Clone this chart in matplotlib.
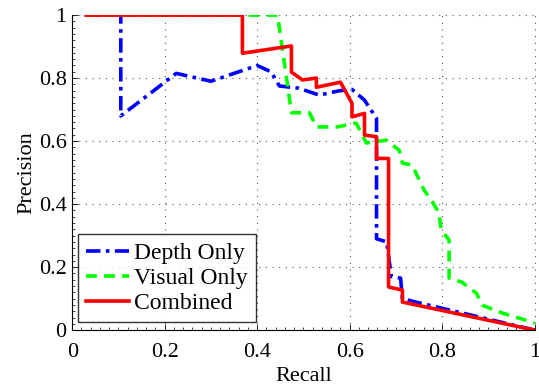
import matplotlib
matplotlib.use("Agg")
import matplotlib.pyplot as plt
from matplotlib.ticker import MultipleLocator

plt.rcParams['font.family'] = ['Liberation Serif', 'DejaVu Serif']
plt.rcParams['mathtext.fontset'] = 'stix'

depth_x = [0.03, 0.105, 0.105, 0.225, 0.30, 0.40, 0.43, 0.448, 0.49, 0.534, 0.578, 0.605, 0.632, 0.658, 0.658, 0.68, 0.69, 0.71, 0.714, 0.74, 1.0]
depth_y = [1.0, 1.0, 0.68, 0.815, 0.79, 0.84, 0.82, 0.775, 0.768, 0.746, 0.76, 0.764, 0.73, 0.672, 0.29, 0.28, 0.17, 0.165, 0.10, 0.09, 0.0]

visual_x = [0.03, 0.444, 0.474, 0.513, 0.528, 0.573, 0.614, 0.636, 0.679, 0.707, 0.714, 0.735, 0.761, 0.779, 0.793, 0.798, 0.815, 0.815, 0.843, 0.874, 0.887, 0.93, 0.98, 1.0]
visual_y = [1.0, 1.0, 0.69, 0.69, 0.645, 0.645, 0.657, 0.594, 0.603, 0.571, 0.53, 0.524, 0.444, 0.407, 0.371, 0.317, 0.286, 0.165, 0.152, 0.117, 0.079, 0.054, 0.032, 0.022]

comb_x = [0.03, 0.368, 0.368, 0.474, 0.474, 0.498, 0.528, 0.528, 0.58, 0.605, 0.605, 0.632, 0.632, 0.658, 0.658, 0.684, 0.684, 0.714, 0.714, 1.0]
comb_y = [1.0, 1.0, 0.879, 0.902, 0.819, 0.794, 0.80, 0.771, 0.787, 0.72, 0.677, 0.688, 0.619, 0.614, 0.545, 0.545, 0.137, 0.127, 0.089, 0.0]

labels = ['Depth Only', 'Visual Only', 'Combined']
ticks = [0, 0.2, 0.4, 0.6, 0.8, 1]
tick_labels = ['0', '0.2', '0.4', '0.6', '0.8', '1']

fig = plt.figure(figsize=(5.39, 3.87), dpi=100)
ax = fig.add_axes([0.134, 0.147, 0.858, 0.814])

ax.plot(depth_x, depth_y, color='#0000ff', lw=2.6, linestyle=(0, (4, 1.5, 1, 1.5)), label=labels[0])
ax.plot(visual_x, visual_y, color='#00ff00', lw=2.6, linestyle=(0, (3, 2)), label=labels[1])
ax.plot(comb_x, comb_y, color='#ff0000', lw=2.6, linestyle='-', label=labels[2])

ax.set_xlim(0, 1)
ax.set_ylim(0, 1)
ax.set_xticks(ticks)
ax.set_xticklabels(tick_labels)
ax.set_yticks(ticks)
ax.set_yticklabels(tick_labels)
ax.xaxis.set_minor_locator(MultipleLocator(0.02))
ax.yaxis.set_minor_locator(MultipleLocator(0.02))
ax.tick_params(which='major', direction='in', length=4, width=0.6, labelsize=16)
ax.tick_params(axis='x', which='major', pad=9)
ax.tick_params(axis='y', which='major', pad=4)
ax.tick_params(which='minor', direction='in', length=2, width=0.5)
for s in ['top', 'right']:
    ax.spines[s].set_visible(False)
for s in ['left', 'bottom']:
    ax.spines[s].set_linewidth(0.8)

ax.grid(True, which='major', color='#555555', linestyle=(0, (1, 5)), linewidth=0.8)
for gl in ax.get_xgridlines() + ax.get_ygridlines():
    gl.set_clip_on(False)

ax.set_xlabel('Recall', fontsize=16, labelpad=4)
ax.set_ylabel('Precision', fontsize=16, labelpad=2)

leg = ax.legend(loc='lower left', bbox_to_anchor=(0.012, 0.025), fontsize=17, frameon=True, fancybox=False,
                edgecolor='black', handlelength=1.8, handletextpad=0.25, borderpad=0.35,
                labelspacing=0.15, borderaxespad=0.0)
leg.get_frame().set_linewidth(1.0)

fig.savefig('out.png', dpi=100)
